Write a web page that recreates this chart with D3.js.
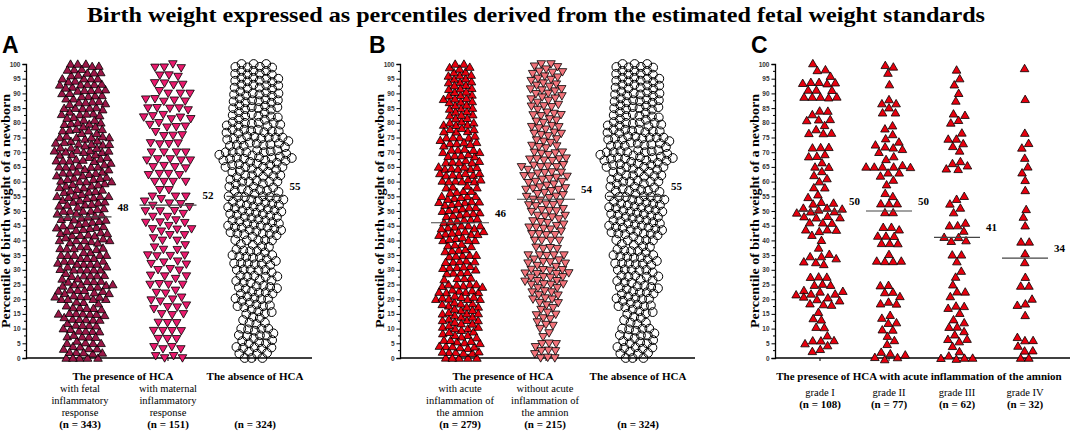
<!DOCTYPE html>
<html>
<head>
<meta charset="utf-8">
<script src="https://cdn.jsdelivr.net/npm/d3@7"></script>
<style>
  body { margin: 0; background: #fff; }
  svg { display: block; }
  .serif { font-family: "Liberation Serif", "Times New Roman", serif; }
  .tick text { font-family: "Liberation Sans", Arial, sans-serif; font-weight: bold; font-size: 6.5px; fill: #333; }
</style>
</head>
<body>
<svg id="chart" width="1072" height="431"></svg>
<script>
// y axis tick labels (percentiles)
var yTicks = d3.range(0, 101, 5);
// bins of 5 percentiles, from 0-5 up to 95-100 (counts)
var binStarts = d3.range(0, 100, 5);

// panel A
var fetalCounts    = [18, 12, 16, 12, 24, 14, 22, 12, 22, 16, 20, 16, 20, 18, 24, 15, 14, 16, 18, 14];
var maternalCounts = [8, 7, 4, 9, 4, 10, 9, 4, 9, 9, 11, 2, 9, 12, 4, 8, 10, 10, 5, 7];
var absenceCounts  = [14, 14, 6, 12, 16, 14, 16, 10, 18, 20, 22, 12, 18, 27, 20, 20, 14, 19, 16, 16];
// panel B
var amnionCounts   = [18, 14, 14, 14, 22, 8, 16, 8, 20, 14, 18, 8, 20, 14, 15, 12, 10, 12, 12, 10];
var noAmnionCounts = [11, 2, 8, 6, 10, 18, 14, 4, 14, 10, 14, 12, 16, 14, 8, 10, 10, 12, 10, 12];

// panel C, individual percentiles
var gradeI = [100, 98, 98, 95.5, 93.5, 93.5, 93.5, 93.5, 93.5, 91, 91, 91, 89, 89, 89, 89, 89,
  84, 84, 82.5, 81, 81, 81, 79.5, 77.5, 76.5, 76.5, 76.5, 71.5, 71.5, 71.5, 69.5, 68.5, 68.5,
  66.5, 65, 65, 63.5, 62, 61, 60, 58, 58, 55.5, 54.5, 52.5, 52.5, 52.5, 50.5, 50.5, 50.5, 50.5,
  49.5, 49.5, 49.5, 48, 48, 48, 48, 46.5, 46.5, 45.5, 44, 44, 44, 43, 42, 40, 37.5,
  35, 34, 34, 34, 33, 33, 32, 27.5, 27.5, 27.5, 24.8, 24.8, 24.8, 22.5, 22.5, 22.5,
  21.3, 21.3, 21.3, 21.3, 20, 20, 20, 18.7, 18.7, 18, 15.4, 13.5, 13, 10.5, 10.5, 7.5,
  5.8, 5.8, 5.8, 5, 4.5, 3, 2.3];
var gradeII = [99.5, 99, 97, 93, 87.5, 86.5, 86.5, 85.5, 83.5, 83.5, 79, 78, 76, 74.5, 73,
  72, 72, 71.5, 71.5, 70.5, 68.5, 67.5, 65, 65, 65, 65, 64.5, 64.5, 63.5, 63.5, 62, 60.5, 59,
  56, 55, 52.5, 52.5, 52.5, 49.5, 49.5, 44.5, 44.5, 43.5, 41.5, 41.5, 41.5, 39, 39, 39, 35,
  33, 33, 33, 33, 24.5, 24.5, 22.5, 22.5, 21, 19, 18.5, 18.5, 14.5, 13.5, 12, 12, 9.5, 9.5,
  7.5, 6, 4.8, 1.5, 1, 1, 0.5, 0.5, 0];
var gradeIII = [98, 95, 93, 90, 87.5, 83, 82.5, 81, 80, 76.5, 74.5, 74.5, 73, 72, 70.5, 66.5,
  66, 65.5, 64.5, 64.5, 55, 54, 52.5, 51, 49.5, 45.5, 45, 45, 43.5, 41, 41, 40, 40, 35, 35, 33,
  29.5, 27.5, 25, 22.5, 22.5, 21, 17.5, 17.5, 17, 15.5, 13, 12, 10.5, 10.5, 9, 7.5, 6.5, 6.5,
  6, 4, 2, 0.5, 0, 0, 0, 0];
var gradeIV = [98.5, 88, 76.5, 73, 71.5, 68, 65, 63, 60.5, 57, 50.5, 48, 45, 39.5, 39.5, 35.5,
  32.5, 27.5, 24.5, 24.5, 20, 18.5, 18, 14.5, 7, 6, 6, 4, 2.5, 2.5, 0, 0];

var mediansA = [48, 52, 55];
var mediansB = [46, 54, 55];
var mediansC = [50, 50, 41, 34];
var nA = [343, 151, 324];
var nB = [279, 215, 324];
var nC = [108, 77, 62, 32];

var svg = d3.select("#chart");
var yScale = d3.scaleLinear().domain([0, 100]).range([358, 64]);

svg.append("text").attr("class", "serif")
  .attr("x", 536).attr("y", 22).attr("text-anchor", "middle")
  .attr("textLength", 898).attr("lengthAdjust", "spacingAndGlyphs")
  .style("font-weight", "bold").style("font-size", "20px")
  .text("Birth weight expressed as percentiles derived from the estimated fetal weight standards");

// expand bin counts into nodes
function binNodes(counts) {
  var out = [];
  counts.forEach(function(c, b) {
    for (var k = 0; k < c; k++) out.push({lo: binStarts[b], hi: binStarts[b] + 5});
  });
  return out;
}
function valueNodes(vals) {
  return vals.map(function(v) { return {lo: v, hi: v, v: v}; });
}

// beeswarm layout with d3-force
function swarm(nodes, cx, r, exact) {
  nodes.forEach(function(d, i) {
    var mid = exact ? d.v : (d.lo + d.hi) / 2;
    d.x = cx + (((i * 7) % 11) - 5) * 1.3;
    d.y = yScale(mid) + (exact ? 0 : (((i * 3) % 5) - 2) * 2);
    d.ty = yScale(mid);
  });
  var sim = d3.forceSimulation(nodes)
    .force("x", d3.forceX(cx).strength(exact ? 0.04 : 0.06))
    .force("y", d3.forceY(function(d) { return d.ty; }).strength(exact ? 0.9 : 0.04))
    .force("collide", d3.forceCollide(r).strength(0.9).iterations(2))
    .stop();
  for (var t = 0; t < 320; t++) {
    sim.tick();
    nodes.forEach(function(d) {
      var top = yScale(d.hi), bot = yScale(d.lo);
      if (exact) { top -= 1.5; bot += 1.5; }
      if (d.y < top) d.y = top;
      if (d.y > bot) d.y = bot;
    });
  }
  return nodes;
}

var triUp = d3.symbol().type(d3.symbolTriangle).size(32)();

function drawPanel(p) {
  var g = svg.append("g");
  g.append("text").attr("x", p.letterX).attr("y", 53)
    .style("font-family", "Liberation Sans, Arial, sans-serif")
    .style("font-weight", "bold").style("font-size", "23px").text(p.letter);

  // y axis
  var yAxis = d3.axisLeft(yScale).tickValues(yTicks).tickSize(3.5).tickPadding(2);
  var ax = g.append("g").attr("transform", "translate(" + p.axisX + ",0)").call(yAxis);
  ax.select(".domain").attr("stroke-width", 1.3);
  ax.selectAll(".minor").data(d3.range(2.5, 100, 5)).enter().append("line")
    .attr("class", "minor").attr("x1", -2).attr("x2", 0)
    .attr("y1", function(d) { return yScale(d); }).attr("y2", function(d) { return yScale(d); })
    .attr("stroke", "#000");

  // x axis
  g.append("line").attr("x1", p.axisX).attr("x2", p.xEnd)
    .attr("y1", yScale(0)).attr("y2", yScale(0))
    .attr("stroke", "#000").attr("stroke-width", 1.3);
  g.selectAll(".xt").data(p.cols).enter().append("line")
    .attr("x1", function(d) { return d; }).attr("x2", function(d) { return d; })
    .attr("y1", yScale(0)).attr("y2", yScale(0) + 3).attr("stroke", "#000");

  g.append("text").attr("class", "serif")
    .attr("transform", "translate(" + p.titleX + "," + yScale(50) + ") rotate(-90)")
    .attr("text-anchor", "middle").attr("textLength", 234).attr("lengthAdjust", "spacingAndGlyphs")
    .style("font-weight", "bold").style("font-size", "12px")
    .text("Percentile of birth weight of a newborn");

  // points
  p.groups.forEach(function(grp, i) {
    var nodes = swarm(grp.nodes, p.cols[i], grp.r, grp.exact);
    var sel = g.append("g").selectAll("path").data(nodes).enter();
    if (grp.shape === "circle") {
      sel.append("circle").attr("cx", function(d) { return d.x; }).attr("cy", function(d) { return d.y; })
        .attr("r", 4.4).attr("fill", "none").attr("stroke", "#000").attr("stroke-width", 1);
    } else {
      sel.append("path").attr("d", triUp)
        .attr("transform", function(d) {
          return "translate(" + d.x + "," + (d.y + (grp.shape === "down" ? -0.8 : 0.8)) + ")" +
            (grp.shape === "down" ? " rotate(180)" : "");
        })
        .attr("fill", grp.fill).attr("stroke", "#000").attr("stroke-width", 0.8);
    }
  });

  // medians
  p.medians.forEach(function(m, i) {
    var x0 = p.cols[i] - p.half, x1 = p.cols[i] + p.half;
    g.append("line").attr("x1", x0).attr("x2", x1)
      .attr("y1", yScale(m)).attr("y2", yScale(m)).attr("stroke", "#444").attr("stroke-width", 1.2);
    g.append("text").attr("class", "serif").attr("x", x1 + 6).attr("y", yScale(m) - 6)
      .style("font-weight", "bold").style("font-size", "11px").text(m);
  });
}

var fillA1 = "#9b1747", fillA2 = "#ea1a6d", fillRed = "#e8000e", fillB2 = "#f2737a";

drawPanel({
  letter: "A", letterX: 2, axisX: 26, xEnd: 312, titleX: 10, cols: [83, 168, 255], half: 28.5,
  medians: mediansA,
  groups: [
    {nodes: binNodes(fetalCounts), r: 3.35, shape: "up", fill: fillA1},
    {nodes: binNodes(maternalCounts), r: 4.6, shape: "down", fill: fillA2},
    {nodes: binNodes(absenceCounts), r: 3.45, shape: "circle"}
  ]
});
drawPanel({
  letter: "B", letterX: 369, axisX: 400, xEnd: 695, titleX: 384, cols: [460, 546, 636], half: 29,
  medians: mediansB,
  groups: [
    {nodes: binNodes(amnionCounts), r: 3.3, shape: "up", fill: fillRed},
    {nodes: binNodes(noAmnionCounts), r: 3.55, shape: "down", fill: fillB2},
    {nodes: binNodes(absenceCounts), r: 3.45, shape: "circle"}
  ]
});
drawPanel({
  letter: "C", letterX: 751, axisX: 775, xEnd: 1070, titleX: 759, cols: [820, 889, 957, 1025], half: 23,
  medians: mediansC,
  groups: [
    {nodes: valueNodes(gradeI), r: 4.1, shape: "up", fill: fillRed, exact: true},
    {nodes: valueNodes(gradeII), r: 4.1, shape: "up", fill: fillRed, exact: true},
    {nodes: valueNodes(gradeIII), r: 4.1, shape: "up", fill: fillRed, exact: true},
    {nodes: valueNodes(gradeIV), r: 4.1, shape: "up", fill: fillRed, exact: true}
  ]
});

// category labels
function labels(items, weight, size) {
  items.forEach(function(it) {
    var t = svg.append("text").attr("class", "serif").attr("text-anchor", "middle")
      .style("font-weight", weight).style("font-size", size + "px");
    it.lines.forEach(function(line, k) {
      t.append("tspan").attr("x", it.x).attr("y", it.y + k * 12).text(line);
    });
  });
}
labels([
  {x: 123, y: 380, lines: ["The presence of HCA"]},
  {x: 255, y: 380, lines: ["The absence of HCA"]},
  {x: 503, y: 380, lines: ["The presence of HCA"]},
  {x: 638, y: 380, lines: ["The absence of HCA"]},
  {x: 919, y: 380, lines: ["The presence of HCA with acute inflammation of  the amnion"]}
], "bold", 11);
labels([
  {x: 80, y: 392, lines: ["with fetal", "inflammatory", "response"]},
  {x: 168, y: 392, lines: ["with maternal", "inflammatory", "response"]},
  {x: 460, y: 392, lines: ["with acute", "inflammation of", "the amnion"]},
  {x: 545, y: 392, lines: ["without acute", "inflammation of", "the amnion"]},
  {x: 820, y: 396, lines: ["grade I"]},
  {x: 889, y: 396, lines: ["grade II"]},
  {x: 957, y: 396, lines: ["grade III"]},
  {x: 1025, y: 396, lines: ["grade IV"]}
], "normal", 10.5);
var nLabels = [];
[80, 168, 255].forEach(function(x, i) { nLabels.push({x: x, y: 428, lines: ["(n = " + nA[i] + ")"]}); });
[460, 545, 638].forEach(function(x, i) { nLabels.push({x: x, y: 428, lines: ["(n = " + nB[i] + ")"]}); });
[820, 889, 957, 1025].forEach(function(x, i) { nLabels.push({x: x, y: 408, lines: ["(n = " + nC[i] + ")"]}); });
labels(nLabels, "bold", 11);
</script>
</body>
</html>
